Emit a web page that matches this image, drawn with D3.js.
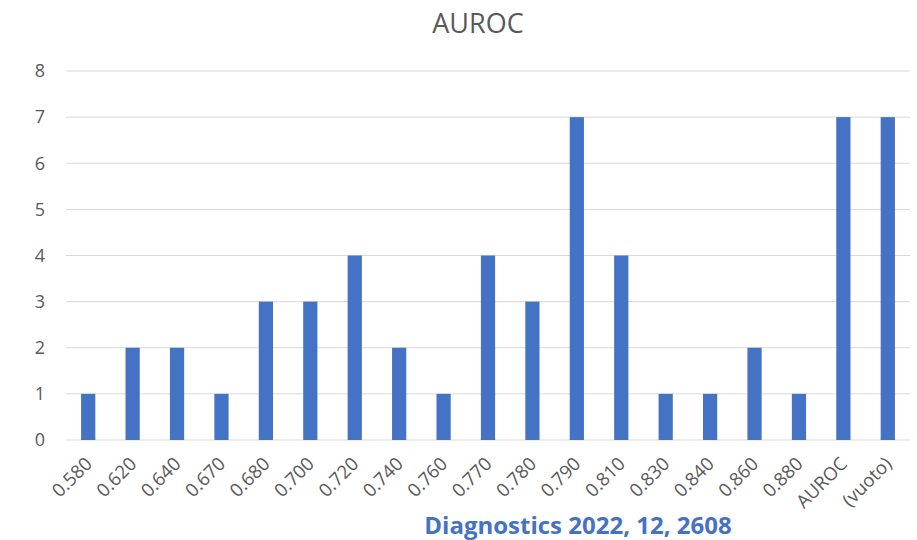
<!DOCTYPE html>
<html>
<head>
<meta charset="utf-8">
<script src="https://cdn.jsdelivr.net/npm/d3@7"></script>
<style>
  body { margin: 0; background: #fff; }
  text { font-family: "Open Sans", "Noto Sans", sans-serif; }
</style>
</head>
<body>
<svg id="chart" width="917" height="540"></svg>
<script>
// data
var categories = ["0.580", "0.620", "0.640", "0.670", "0.680", "0.700", "0.720", "0.740", "0.760",
                  "0.770", "0.780", "0.790", "0.810", "0.830", "0.840", "0.860", "0.880", "AUROC", "(vuoto)"];
var counts = [1, 2, 2, 1, 3, 3, 4, 2, 1, 4, 3, 7, 4, 1, 1, 2, 1, 7, 7];
var yTicks = [0, 1, 2, 3, 4, 5, 6, 7, 8];

var svg = d3.select("#chart");
var margin = {left: 66, right: 7, top: 71, bottom: 100};
var width = 917 - margin.left - margin.right,
    height = 540 - margin.top - margin.bottom;

var g = svg.append("g")
    .attr("transform", "translate(" + margin.left + "," + margin.top + ")");

// scales
var x = d3.scaleBand()
    .domain(categories)
    .range([0, width])
    .paddingInner(0.68)
    .paddingOuter(0.34);

var y = d3.scaleLinear()
    .domain([0, 8])
    .range([height, 0]);

// gridlines
g.append("g")
    .selectAll("line")
    .data(yTicks)
    .enter()
    .append("line")
    .attr("x1", 0)
    .attr("x2", width)
    .attr("y1", function(d) { return y(d); })
    .attr("y2", function(d) { return y(d); })
    .attr("stroke", "#d9d9d9")
    .attr("stroke-width", 1);

// y axis labels
var yAxis = g.append("g")
    .call(d3.axisLeft(y).tickValues(yTicks).tickSize(0).tickPadding(21).tickFormat(d3.format("d")));
yAxis.select(".domain").remove();
yAxis.selectAll("text")
    .style("font-size", "18px")
    .style("fill", "#595959");

// bars
g.append("g")
    .selectAll("rect")
    .data(counts)
    .enter()
    .append("rect")
    .attr("x", function(d, i) { return x(categories[i]); })
    .attr("y", function(d) { return y(d); })
    .attr("width", x.bandwidth())
    .attr("height", function(d) { return height - y(d); })
    .attr("fill", "#4472c4");

// x axis labels
var xAxis = g.append("g")
    .attr("transform", "translate(0," + height + ")")
    .call(d3.axisBottom(x).tickSize(0).tickPadding(0));
xAxis.select(".domain").remove();
xAxis.selectAll("text")
    .attr("text-anchor", "end")
    .attr("dy", 0)
    .attr("transform", "translate(5,25) rotate(-45)")
    .style("font-size", "18.5px")
    .style("fill", "#595959");

// title
svg.append("text")
    .attr("x", 478)
    .attr("y", 33)
    .attr("text-anchor", "middle")
    .style("font-size", "27px")
    .style("fill", "#595959")
    .text("AUROC");

// source note
svg.append("text")
    .attr("x", 578)
    .attr("y", 534)
    .attr("text-anchor", "middle")
    .style("font-size", "24px")
    .style("font-weight", "bold")
    .style("fill", "#4472c4")
    .text("Diagnostics 2022, 12, 2608");
</script>
</body>
</html>
